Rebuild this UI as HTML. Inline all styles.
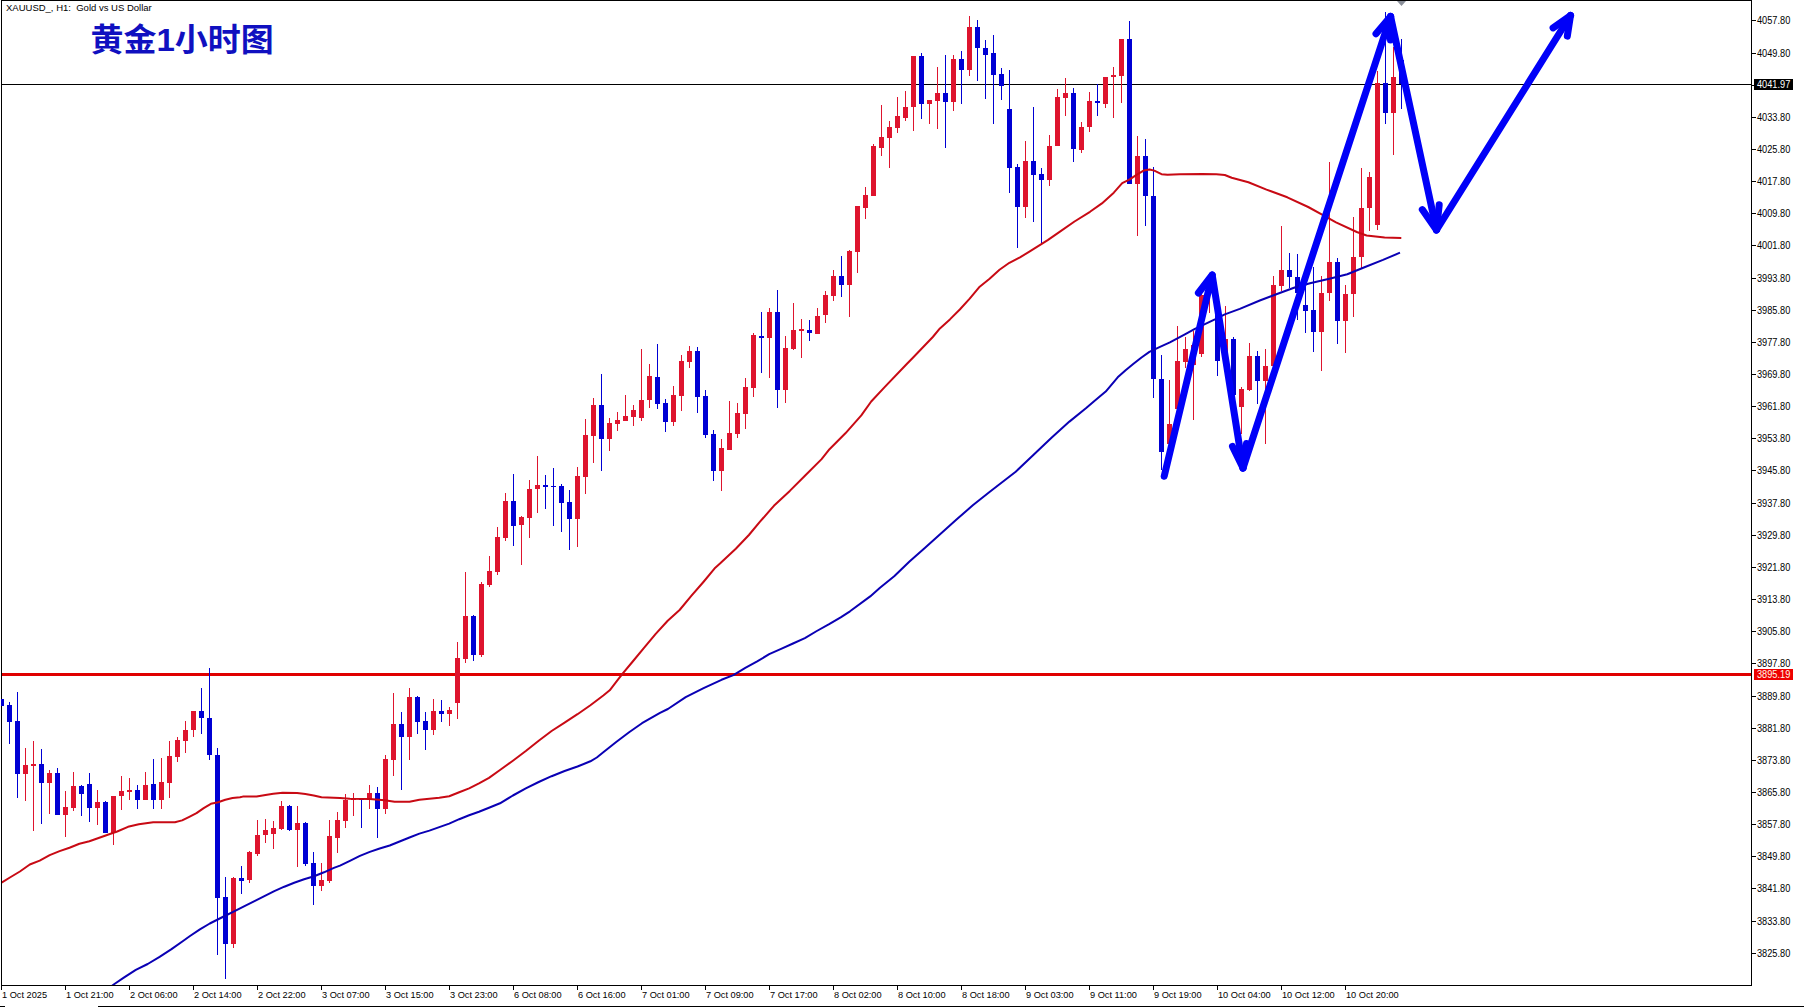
<!DOCTYPE html><html><head><meta charset="utf-8"><title>XAUUSD H1</title>
<style>html,body{margin:0;padding:0;background:#fff;}svg{display:block;}.ax{font-family:"Liberation Sans", Arial, sans-serif;font-size:9.5px;fill:#000;}</style></head><body>
<svg width="1804" height="1007" viewBox="0 0 1804 1007">
<rect x="0" y="0" width="1804" height="1007" fill="#fff"/>
<g shape-rendering="crispEdges">
<rect x="1" y="84" width="1750" height="1" fill="#000"/>
<rect x="1" y="673" width="1750" height="3" fill="#e00000"/>
<rect x="1" y="697" width="1" height="11" fill="#0000d4"/>
<rect x="-1" y="699" width="5" height="7" fill="#0000d4"/>
<rect x="9" y="702" width="1" height="42" fill="#0000d4"/>
<rect x="7" y="705" width="5" height="17" fill="#0000d4"/>
<rect x="17" y="692" width="1" height="106" fill="#0000d4"/>
<rect x="15" y="721" width="5" height="53" fill="#0000d4"/>
<rect x="25" y="748" width="1" height="53" fill="#de142e"/>
<rect x="23" y="765" width="5" height="9" fill="#de142e"/>
<rect x="33" y="741" width="1" height="90" fill="#de142e"/>
<rect x="31" y="764" width="5" height="2" fill="#de142e"/>
<rect x="41" y="749" width="1" height="75" fill="#0000d4"/>
<rect x="39" y="764" width="5" height="19" fill="#0000d4"/>
<rect x="49" y="770" width="1" height="44" fill="#de142e"/>
<rect x="47" y="773" width="5" height="10" fill="#de142e"/>
<rect x="57" y="768" width="1" height="47" fill="#0000d4"/>
<rect x="55" y="773" width="5" height="42" fill="#0000d4"/>
<rect x="65" y="791" width="1" height="46" fill="#de142e"/>
<rect x="63" y="807" width="5" height="8" fill="#de142e"/>
<rect x="73" y="772" width="1" height="39" fill="#de142e"/>
<rect x="71" y="786" width="5" height="22" fill="#de142e"/>
<rect x="81" y="785" width="1" height="31" fill="#0000d4"/>
<rect x="79" y="786" width="5" height="8" fill="#0000d4"/>
<rect x="89" y="773" width="1" height="49" fill="#0000d4"/>
<rect x="87" y="784" width="5" height="24" fill="#0000d4"/>
<rect x="97" y="790" width="1" height="35" fill="#de142e"/>
<rect x="95" y="802" width="5" height="6" fill="#de142e"/>
<rect x="105" y="801" width="1" height="32" fill="#0000d4"/>
<rect x="103" y="802" width="5" height="31" fill="#0000d4"/>
<rect x="113" y="796" width="1" height="49" fill="#de142e"/>
<rect x="111" y="796" width="5" height="37" fill="#de142e"/>
<rect x="121" y="776" width="1" height="34" fill="#de142e"/>
<rect x="119" y="791" width="5" height="5" fill="#de142e"/>
<rect x="129" y="778" width="1" height="22" fill="#de142e"/>
<rect x="127" y="790" width="5" height="2" fill="#de142e"/>
<rect x="137" y="785" width="1" height="24" fill="#0000d4"/>
<rect x="135" y="790" width="5" height="10" fill="#0000d4"/>
<rect x="145" y="772" width="1" height="28" fill="#de142e"/>
<rect x="143" y="785" width="5" height="15" fill="#de142e"/>
<rect x="153" y="759" width="1" height="50" fill="#0000d4"/>
<rect x="151" y="784" width="5" height="16" fill="#0000d4"/>
<rect x="161" y="758" width="1" height="51" fill="#de142e"/>
<rect x="159" y="782" width="5" height="18" fill="#de142e"/>
<rect x="169" y="741" width="1" height="57" fill="#de142e"/>
<rect x="167" y="756" width="5" height="27" fill="#de142e"/>
<rect x="177" y="737" width="1" height="25" fill="#de142e"/>
<rect x="175" y="740" width="5" height="17" fill="#de142e"/>
<rect x="185" y="721" width="1" height="32" fill="#de142e"/>
<rect x="183" y="730" width="5" height="11" fill="#de142e"/>
<rect x="193" y="711" width="1" height="26" fill="#de142e"/>
<rect x="191" y="711" width="5" height="19" fill="#de142e"/>
<rect x="201" y="688" width="1" height="46" fill="#0000d4"/>
<rect x="199" y="711" width="5" height="7" fill="#0000d4"/>
<rect x="209" y="668" width="1" height="92" fill="#0000d4"/>
<rect x="207" y="718" width="5" height="37" fill="#0000d4"/>
<rect x="217" y="748" width="1" height="207" fill="#0000d4"/>
<rect x="215" y="755" width="5" height="143" fill="#0000d4"/>
<rect x="225" y="877" width="1" height="102" fill="#0000d4"/>
<rect x="223" y="897" width="5" height="47" fill="#0000d4"/>
<rect x="233" y="877" width="1" height="71" fill="#de142e"/>
<rect x="231" y="878" width="5" height="66" fill="#de142e"/>
<rect x="241" y="866" width="1" height="28" fill="#0000d4"/>
<rect x="239" y="878" width="5" height="3" fill="#0000d4"/>
<rect x="249" y="851" width="1" height="32" fill="#de142e"/>
<rect x="247" y="852" width="5" height="28" fill="#de142e"/>
<rect x="257" y="820" width="1" height="36" fill="#de142e"/>
<rect x="255" y="835" width="5" height="19" fill="#de142e"/>
<rect x="265" y="819" width="1" height="24" fill="#de142e"/>
<rect x="263" y="830" width="5" height="5" fill="#de142e"/>
<rect x="273" y="821" width="1" height="28" fill="#de142e"/>
<rect x="271" y="828" width="5" height="6" fill="#de142e"/>
<rect x="281" y="801" width="1" height="29" fill="#de142e"/>
<rect x="279" y="806" width="5" height="23" fill="#de142e"/>
<rect x="289" y="805" width="1" height="26" fill="#0000d4"/>
<rect x="287" y="806" width="5" height="24" fill="#0000d4"/>
<rect x="297" y="806" width="1" height="61" fill="#de142e"/>
<rect x="295" y="823" width="5" height="7" fill="#de142e"/>
<rect x="305" y="822" width="1" height="44" fill="#0000d4"/>
<rect x="303" y="823" width="5" height="41" fill="#0000d4"/>
<rect x="313" y="852" width="1" height="53" fill="#0000d4"/>
<rect x="311" y="863" width="5" height="23" fill="#0000d4"/>
<rect x="321" y="863" width="1" height="28" fill="#de142e"/>
<rect x="319" y="880" width="5" height="6" fill="#de142e"/>
<rect x="329" y="820" width="1" height="63" fill="#de142e"/>
<rect x="327" y="836" width="5" height="45" fill="#de142e"/>
<rect x="337" y="812" width="1" height="41" fill="#de142e"/>
<rect x="335" y="820" width="5" height="18" fill="#de142e"/>
<rect x="345" y="794" width="1" height="34" fill="#de142e"/>
<rect x="343" y="800" width="5" height="21" fill="#de142e"/>
<rect x="353" y="793" width="1" height="23" fill="#de142e"/>
<rect x="351" y="798" width="5" height="2" fill="#de142e"/>
<rect x="361" y="798" width="1" height="30" fill="#0000d4"/>
<rect x="359" y="798" width="5" height="2" fill="#0000d4"/>
<rect x="369" y="785" width="1" height="24" fill="#de142e"/>
<rect x="367" y="793" width="5" height="7" fill="#de142e"/>
<rect x="377" y="787" width="1" height="51" fill="#0000d4"/>
<rect x="375" y="793" width="5" height="16" fill="#0000d4"/>
<rect x="385" y="755" width="1" height="59" fill="#de142e"/>
<rect x="383" y="759" width="5" height="50" fill="#de142e"/>
<rect x="393" y="693" width="1" height="83" fill="#de142e"/>
<rect x="391" y="724" width="5" height="36" fill="#de142e"/>
<rect x="401" y="712" width="1" height="78" fill="#0000d4"/>
<rect x="399" y="724" width="5" height="13" fill="#0000d4"/>
<rect x="409" y="688" width="1" height="72" fill="#de142e"/>
<rect x="407" y="697" width="5" height="40" fill="#de142e"/>
<rect x="417" y="696" width="1" height="38" fill="#0000d4"/>
<rect x="415" y="697" width="5" height="25" fill="#0000d4"/>
<rect x="425" y="712" width="1" height="38" fill="#0000d4"/>
<rect x="423" y="721" width="5" height="9" fill="#0000d4"/>
<rect x="433" y="699" width="1" height="36" fill="#de142e"/>
<rect x="431" y="711" width="5" height="19" fill="#de142e"/>
<rect x="441" y="700" width="1" height="22" fill="#0000d4"/>
<rect x="439" y="711" width="5" height="3" fill="#0000d4"/>
<rect x="449" y="707" width="1" height="19" fill="#de142e"/>
<rect x="447" y="710" width="5" height="4" fill="#de142e"/>
<rect x="457" y="642" width="1" height="77" fill="#de142e"/>
<rect x="455" y="658" width="5" height="45" fill="#de142e"/>
<rect x="465" y="572" width="1" height="91" fill="#de142e"/>
<rect x="463" y="616" width="5" height="43" fill="#de142e"/>
<rect x="473" y="615" width="1" height="46" fill="#0000d4"/>
<rect x="471" y="616" width="5" height="39" fill="#0000d4"/>
<rect x="481" y="582" width="1" height="75" fill="#de142e"/>
<rect x="479" y="584" width="5" height="71" fill="#de142e"/>
<rect x="489" y="556" width="1" height="31" fill="#de142e"/>
<rect x="487" y="571" width="5" height="14" fill="#de142e"/>
<rect x="497" y="527" width="1" height="48" fill="#de142e"/>
<rect x="495" y="537" width="5" height="35" fill="#de142e"/>
<rect x="505" y="493" width="1" height="48" fill="#de142e"/>
<rect x="503" y="501" width="5" height="37" fill="#de142e"/>
<rect x="513" y="474" width="1" height="72" fill="#0000d4"/>
<rect x="511" y="501" width="5" height="25" fill="#0000d4"/>
<rect x="521" y="516" width="1" height="49" fill="#de142e"/>
<rect x="519" y="517" width="5" height="8" fill="#de142e"/>
<rect x="529" y="480" width="1" height="58" fill="#de142e"/>
<rect x="527" y="489" width="5" height="29" fill="#de142e"/>
<rect x="537" y="456" width="1" height="57" fill="#de142e"/>
<rect x="535" y="485" width="5" height="4" fill="#de142e"/>
<rect x="545" y="475" width="1" height="34" fill="#0000d4"/>
<rect x="543" y="485" width="5" height="2" fill="#0000d4"/>
<rect x="553" y="468" width="1" height="58" fill="#0000d4"/>
<rect x="551" y="486" width="5" height="1" fill="#0000d4"/>
<rect x="561" y="484" width="1" height="48" fill="#0000d4"/>
<rect x="559" y="486" width="5" height="17" fill="#0000d4"/>
<rect x="569" y="490" width="1" height="60" fill="#0000d4"/>
<rect x="567" y="502" width="5" height="17" fill="#0000d4"/>
<rect x="577" y="467" width="1" height="80" fill="#de142e"/>
<rect x="575" y="476" width="5" height="43" fill="#de142e"/>
<rect x="585" y="419" width="1" height="75" fill="#de142e"/>
<rect x="583" y="435" width="5" height="42" fill="#de142e"/>
<rect x="593" y="398" width="1" height="65" fill="#de142e"/>
<rect x="591" y="405" width="5" height="31" fill="#de142e"/>
<rect x="601" y="374" width="1" height="97" fill="#0000d4"/>
<rect x="599" y="405" width="5" height="34" fill="#0000d4"/>
<rect x="609" y="418" width="1" height="33" fill="#de142e"/>
<rect x="607" y="423" width="5" height="16" fill="#de142e"/>
<rect x="617" y="412" width="1" height="19" fill="#de142e"/>
<rect x="615" y="420" width="5" height="4" fill="#de142e"/>
<rect x="625" y="395" width="1" height="26" fill="#de142e"/>
<rect x="623" y="416" width="5" height="5" fill="#de142e"/>
<rect x="633" y="405" width="1" height="21" fill="#de142e"/>
<rect x="631" y="410" width="5" height="7" fill="#de142e"/>
<rect x="641" y="349" width="1" height="72" fill="#de142e"/>
<rect x="639" y="400" width="5" height="18" fill="#de142e"/>
<rect x="649" y="364" width="1" height="44" fill="#de142e"/>
<rect x="647" y="376" width="5" height="24" fill="#de142e"/>
<rect x="657" y="344" width="1" height="65" fill="#0000d4"/>
<rect x="655" y="377" width="5" height="27" fill="#0000d4"/>
<rect x="665" y="399" width="1" height="33" fill="#0000d4"/>
<rect x="663" y="403" width="5" height="19" fill="#0000d4"/>
<rect x="673" y="386" width="1" height="40" fill="#de142e"/>
<rect x="671" y="395" width="5" height="27" fill="#de142e"/>
<rect x="681" y="355" width="1" height="56" fill="#de142e"/>
<rect x="679" y="361" width="5" height="35" fill="#de142e"/>
<rect x="689" y="346" width="1" height="22" fill="#de142e"/>
<rect x="687" y="351" width="5" height="11" fill="#de142e"/>
<rect x="697" y="347" width="1" height="66" fill="#0000d4"/>
<rect x="695" y="351" width="5" height="46" fill="#0000d4"/>
<rect x="705" y="390" width="1" height="48" fill="#0000d4"/>
<rect x="703" y="396" width="5" height="39" fill="#0000d4"/>
<rect x="713" y="430" width="1" height="51" fill="#0000d4"/>
<rect x="711" y="434" width="5" height="37" fill="#0000d4"/>
<rect x="721" y="439" width="1" height="52" fill="#de142e"/>
<rect x="719" y="448" width="5" height="23" fill="#de142e"/>
<rect x="729" y="401" width="1" height="49" fill="#de142e"/>
<rect x="727" y="433" width="5" height="17" fill="#de142e"/>
<rect x="737" y="403" width="1" height="35" fill="#de142e"/>
<rect x="735" y="413" width="5" height="21" fill="#de142e"/>
<rect x="745" y="378" width="1" height="51" fill="#de142e"/>
<rect x="743" y="387" width="5" height="27" fill="#de142e"/>
<rect x="753" y="333" width="1" height="64" fill="#de142e"/>
<rect x="751" y="335" width="5" height="53" fill="#de142e"/>
<rect x="761" y="312" width="1" height="61" fill="#0000d4"/>
<rect x="759" y="336" width="5" height="2" fill="#0000d4"/>
<rect x="769" y="308" width="1" height="70" fill="#de142e"/>
<rect x="767" y="312" width="5" height="26" fill="#de142e"/>
<rect x="777" y="290" width="1" height="118" fill="#0000d4"/>
<rect x="775" y="312" width="5" height="78" fill="#0000d4"/>
<rect x="785" y="336" width="1" height="67" fill="#de142e"/>
<rect x="783" y="348" width="5" height="42" fill="#de142e"/>
<rect x="793" y="303" width="1" height="47" fill="#de142e"/>
<rect x="791" y="330" width="5" height="19" fill="#de142e"/>
<rect x="801" y="319" width="1" height="39" fill="#de142e"/>
<rect x="799" y="329" width="5" height="2" fill="#de142e"/>
<rect x="809" y="320" width="1" height="21" fill="#0000d4"/>
<rect x="807" y="330" width="5" height="3" fill="#0000d4"/>
<rect x="817" y="308" width="1" height="26" fill="#de142e"/>
<rect x="815" y="316" width="5" height="18" fill="#de142e"/>
<rect x="825" y="291" width="1" height="32" fill="#de142e"/>
<rect x="823" y="295" width="5" height="20" fill="#de142e"/>
<rect x="833" y="270" width="1" height="31" fill="#de142e"/>
<rect x="831" y="276" width="5" height="20" fill="#de142e"/>
<rect x="841" y="256" width="1" height="41" fill="#0000d4"/>
<rect x="839" y="276" width="5" height="9" fill="#0000d4"/>
<rect x="849" y="250" width="1" height="67" fill="#de142e"/>
<rect x="847" y="251" width="5" height="34" fill="#de142e"/>
<rect x="857" y="206" width="1" height="67" fill="#de142e"/>
<rect x="855" y="206" width="5" height="46" fill="#de142e"/>
<rect x="865" y="187" width="1" height="32" fill="#de142e"/>
<rect x="863" y="195" width="5" height="13" fill="#de142e"/>
<rect x="873" y="144" width="1" height="52" fill="#de142e"/>
<rect x="871" y="146" width="5" height="50" fill="#de142e"/>
<rect x="881" y="105" width="1" height="51" fill="#de142e"/>
<rect x="879" y="137" width="5" height="11" fill="#de142e"/>
<rect x="889" y="121" width="1" height="47" fill="#de142e"/>
<rect x="887" y="127" width="5" height="11" fill="#de142e"/>
<rect x="897" y="97" width="1" height="36" fill="#de142e"/>
<rect x="895" y="116" width="5" height="12" fill="#de142e"/>
<rect x="905" y="91" width="1" height="30" fill="#de142e"/>
<rect x="903" y="107" width="5" height="11" fill="#de142e"/>
<rect x="913" y="56" width="1" height="75" fill="#de142e"/>
<rect x="911" y="56" width="5" height="51" fill="#de142e"/>
<rect x="921" y="53" width="1" height="66" fill="#0000d4"/>
<rect x="919" y="56" width="5" height="48" fill="#0000d4"/>
<rect x="929" y="100" width="1" height="24" fill="#de142e"/>
<rect x="927" y="100" width="5" height="4" fill="#de142e"/>
<rect x="937" y="67" width="1" height="62" fill="#de142e"/>
<rect x="935" y="93" width="5" height="8" fill="#de142e"/>
<rect x="945" y="55" width="1" height="93" fill="#0000d4"/>
<rect x="943" y="93" width="5" height="9" fill="#0000d4"/>
<rect x="953" y="55" width="1" height="56" fill="#de142e"/>
<rect x="951" y="59" width="5" height="43" fill="#de142e"/>
<rect x="961" y="51" width="1" height="53" fill="#0000d4"/>
<rect x="959" y="59" width="5" height="11" fill="#0000d4"/>
<rect x="969" y="16" width="1" height="60" fill="#de142e"/>
<rect x="967" y="27" width="5" height="43" fill="#de142e"/>
<rect x="977" y="20" width="1" height="61" fill="#0000d4"/>
<rect x="975" y="27" width="5" height="21" fill="#0000d4"/>
<rect x="985" y="40" width="1" height="59" fill="#0000d4"/>
<rect x="983" y="48" width="5" height="7" fill="#0000d4"/>
<rect x="993" y="35" width="1" height="89" fill="#0000d4"/>
<rect x="991" y="53" width="5" height="22" fill="#0000d4"/>
<rect x="1001" y="68" width="1" height="32" fill="#0000d4"/>
<rect x="999" y="74" width="5" height="12" fill="#0000d4"/>
<rect x="1009" y="70" width="1" height="123" fill="#0000d4"/>
<rect x="1007" y="109" width="5" height="59" fill="#0000d4"/>
<rect x="1017" y="164" width="1" height="84" fill="#0000d4"/>
<rect x="1015" y="167" width="5" height="40" fill="#0000d4"/>
<rect x="1025" y="141" width="1" height="77" fill="#de142e"/>
<rect x="1023" y="161" width="5" height="46" fill="#de142e"/>
<rect x="1033" y="107" width="1" height="115" fill="#0000d4"/>
<rect x="1031" y="161" width="5" height="14" fill="#0000d4"/>
<rect x="1041" y="168" width="1" height="75" fill="#0000d4"/>
<rect x="1039" y="174" width="5" height="6" fill="#0000d4"/>
<rect x="1049" y="135" width="1" height="51" fill="#de142e"/>
<rect x="1047" y="146" width="5" height="34" fill="#de142e"/>
<rect x="1057" y="89" width="1" height="57" fill="#de142e"/>
<rect x="1055" y="97" width="5" height="49" fill="#de142e"/>
<rect x="1065" y="78" width="1" height="38" fill="#de142e"/>
<rect x="1063" y="93" width="5" height="5" fill="#de142e"/>
<rect x="1073" y="88" width="1" height="74" fill="#0000d4"/>
<rect x="1071" y="93" width="5" height="56" fill="#0000d4"/>
<rect x="1081" y="122" width="1" height="31" fill="#de142e"/>
<rect x="1079" y="127" width="5" height="23" fill="#de142e"/>
<rect x="1089" y="92" width="1" height="40" fill="#de142e"/>
<rect x="1087" y="101" width="5" height="26" fill="#de142e"/>
<rect x="1097" y="84" width="1" height="32" fill="#0000d4"/>
<rect x="1095" y="101" width="5" height="2" fill="#0000d4"/>
<rect x="1105" y="77" width="1" height="31" fill="#de142e"/>
<rect x="1103" y="77" width="5" height="27" fill="#de142e"/>
<rect x="1113" y="67" width="1" height="51" fill="#de142e"/>
<rect x="1111" y="75" width="5" height="2" fill="#de142e"/>
<rect x="1121" y="39" width="1" height="64" fill="#de142e"/>
<rect x="1119" y="39" width="5" height="37" fill="#de142e"/>
<rect x="1129" y="21" width="1" height="163" fill="#0000d4"/>
<rect x="1127" y="39" width="5" height="145" fill="#0000d4"/>
<rect x="1137" y="136" width="1" height="100" fill="#de142e"/>
<rect x="1135" y="156" width="5" height="28" fill="#de142e"/>
<rect x="1145" y="139" width="1" height="87" fill="#0000d4"/>
<rect x="1143" y="156" width="5" height="40" fill="#0000d4"/>
<rect x="1153" y="167" width="1" height="231" fill="#0000d4"/>
<rect x="1151" y="196" width="5" height="183" fill="#0000d4"/>
<rect x="1161" y="355" width="1" height="115" fill="#0000d4"/>
<rect x="1159" y="379" width="5" height="73" fill="#0000d4"/>
<rect x="1169" y="380" width="1" height="75" fill="#de142e"/>
<rect x="1167" y="424" width="5" height="20" fill="#de142e"/>
<rect x="1177" y="326" width="1" height="89" fill="#de142e"/>
<rect x="1175" y="361" width="5" height="48" fill="#de142e"/>
<rect x="1185" y="337" width="1" height="31" fill="#de142e"/>
<rect x="1183" y="349" width="5" height="13" fill="#de142e"/>
<rect x="1193" y="331" width="1" height="89" fill="#de142e"/>
<rect x="1191" y="345" width="5" height="20" fill="#de142e"/>
<rect x="1201" y="294" width="1" height="63" fill="#de142e"/>
<rect x="1199" y="295" width="5" height="59" fill="#de142e"/>
<rect x="1209" y="286" width="1" height="27" fill="#de142e"/>
<rect x="1207" y="288" width="5" height="3" fill="#de142e"/>
<rect x="1217" y="296" width="1" height="80" fill="#0000d4"/>
<rect x="1215" y="305" width="5" height="56" fill="#0000d4"/>
<rect x="1225" y="306" width="1" height="59" fill="#de142e"/>
<rect x="1223" y="339" width="5" height="21" fill="#de142e"/>
<rect x="1233" y="337" width="1" height="63" fill="#0000d4"/>
<rect x="1231" y="339" width="5" height="56" fill="#0000d4"/>
<rect x="1241" y="387" width="1" height="47" fill="#de142e"/>
<rect x="1239" y="389" width="5" height="18" fill="#de142e"/>
<rect x="1249" y="343" width="1" height="48" fill="#de142e"/>
<rect x="1247" y="356" width="5" height="34" fill="#de142e"/>
<rect x="1257" y="351" width="1" height="53" fill="#0000d4"/>
<rect x="1255" y="356" width="5" height="25" fill="#0000d4"/>
<rect x="1265" y="349" width="1" height="95" fill="#de142e"/>
<rect x="1263" y="366" width="5" height="15" fill="#de142e"/>
<rect x="1273" y="276" width="1" height="104" fill="#de142e"/>
<rect x="1271" y="285" width="5" height="81" fill="#de142e"/>
<rect x="1281" y="226" width="1" height="65" fill="#de142e"/>
<rect x="1279" y="270" width="5" height="16" fill="#de142e"/>
<rect x="1289" y="253" width="1" height="35" fill="#0000d4"/>
<rect x="1287" y="270" width="5" height="7" fill="#0000d4"/>
<rect x="1297" y="254" width="1" height="66" fill="#0000d4"/>
<rect x="1295" y="277" width="5" height="16" fill="#0000d4"/>
<rect x="1305" y="286" width="1" height="47" fill="#0000d4"/>
<rect x="1303" y="305" width="5" height="6" fill="#0000d4"/>
<rect x="1313" y="267" width="1" height="85" fill="#0000d4"/>
<rect x="1311" y="310" width="5" height="22" fill="#0000d4"/>
<rect x="1321" y="276" width="1" height="95" fill="#de142e"/>
<rect x="1319" y="293" width="5" height="39" fill="#de142e"/>
<rect x="1329" y="162" width="1" height="139" fill="#de142e"/>
<rect x="1327" y="262" width="5" height="31" fill="#de142e"/>
<rect x="1337" y="258" width="1" height="86" fill="#0000d4"/>
<rect x="1335" y="262" width="5" height="59" fill="#0000d4"/>
<rect x="1345" y="285" width="1" height="68" fill="#de142e"/>
<rect x="1343" y="294" width="5" height="27" fill="#de142e"/>
<rect x="1353" y="217" width="1" height="100" fill="#de142e"/>
<rect x="1351" y="257" width="5" height="37" fill="#de142e"/>
<rect x="1361" y="168" width="1" height="101" fill="#de142e"/>
<rect x="1359" y="208" width="5" height="49" fill="#de142e"/>
<rect x="1369" y="172" width="1" height="59" fill="#de142e"/>
<rect x="1367" y="177" width="5" height="31" fill="#de142e"/>
<rect x="1377" y="71" width="1" height="159" fill="#de142e"/>
<rect x="1375" y="83" width="5" height="142" fill="#de142e"/>
<rect x="1385" y="12" width="1" height="112" fill="#0000d4"/>
<rect x="1383" y="83" width="5" height="30" fill="#0000d4"/>
<rect x="1393" y="47" width="1" height="108" fill="#de142e"/>
<rect x="1391" y="77" width="5" height="36" fill="#de142e"/>
<rect x="1401" y="39" width="1" height="70" fill="#0000d4"/>
<rect x="1399" y="60" width="5" height="24" fill="#0000d4"/>
</g>
<polyline points="0.0,883.0 2.0,882.4 9.9,877.5 19.9,871.5 29.8,864.5 39.7,860.6 49.7,855.1 59.6,851.1 69.5,847.7 79.4,843.7 89.4,841.2 99.3,837.7 109.2,834.3 117.2,831.5 128.0,826.8 138.8,824.3 153.2,822.2 174.9,822.2 182.1,820.4 189.3,816.8 196.5,813.1 203.7,808.1 210.9,803.8 218.1,802.3 225.3,799.8 232.5,798.0 240.0,797.3 242.8,796.6 256.6,796.5 265.5,795.0 273.3,793.8 282.7,792.8 297.1,793.0 305.4,794.0 313.7,795.5 321.5,797.2 340.0,798.0 349.9,798.8 369.8,799.1 384.7,800.3 394.6,801.8 409.5,801.8 419.4,799.8 439.3,797.8 449.2,796.3 459.2,792.3 469.1,788.4 479.0,783.4 489.0,777.9 500.0,770.0 512.9,760.7 525.8,751.0 538.7,740.7 551.6,731.0 564.6,722.6 577.5,714.2 590.4,705.2 603.3,695.5 609.7,690.3 616.2,681.9 622.4,673.8 631.9,662.5 643.8,648.2 655.7,633.9 667.7,620.8 679.6,610.0 691.5,595.7 703.4,582.0 715.3,567.7 720.0,563.6 735.8,548.7 748.9,535.0 760.0,521.7 773.9,505.8 789.8,490.9 805.7,475.0 821.6,459.1 829.5,449.2 845.4,433.3 861.3,415.4 871.2,401.5 885.1,386.6 907.0,363.8 912.9,357.8 932.8,337.0 939.9,328.4 949.9,319.4 959.8,309.5 969.7,298.6 979.7,286.7 989.6,278.7 999.5,269.8 1009.4,262.8 1020.0,257.4 1029.8,251.3 1047.7,240.1 1059.6,231.9 1074.5,221.5 1090.0,211.8 1101.9,203.4 1113.8,192.7 1122.2,183.2 1129.3,179.6 1137.7,174.2 1143.6,170.6 1149.6,169.5 1154.3,170.6 1161.5,174.2 1167.5,174.8 1180.0,174.2 1202.5,173.9 1216.4,174.3 1224.8,175.0 1231.7,177.8 1248.4,182.3 1266.5,189.6 1287.3,197.3 1308.2,207.0 1322.1,214.6 1336.0,222.3 1356.8,232.0 1366.6,235.5 1384.6,237.6 1401.3,237.9" fill="none" stroke="#c80a14" stroke-width="2" stroke-linejoin="round"/>
<polyline points="110.5,987.0 113.7,984.5 123.8,977.7 135.8,969.9 147.7,964.0 159.6,956.8 171.5,949.1 183.4,940.7 190.0,936.0 199.9,929.4 209.8,923.5 217.7,919.5 224.7,916.0 234.6,911.1 244.5,906.1 254.5,901.1 264.4,896.2 274.3,891.2 284.3,886.7 294.2,882.8 304.1,879.3 314.1,876.3 324.0,872.3 333.9,867.9 340.0,865.6 349.9,860.9 359.9,855.9 369.8,851.9 379.7,848.5 389.7,845.5 399.6,841.5 409.5,837.5 419.4,833.6 429.4,830.6 439.3,827.1 449.2,823.6 459.2,819.2 469.1,815.2 479.0,811.7 489.0,807.7 500.0,803.3 512.9,795.5 525.8,788.4 538.7,782.0 551.6,776.2 564.6,771.0 577.5,766.5 590.4,761.3 596.8,757.5 603.3,752.3 616.2,742.0 629.1,732.3 642.0,723.2 660.0,712.9 667.9,709.0 685.7,697.1 703.6,688.2 721.5,679.8 733.4,675.1 745.3,667.9 757.2,661.4 769.2,654.2 781.1,648.9 793.0,643.5 804.9,638.1 816.8,631.0 828.7,624.4 840.7,617.3 850.0,611.3 870.2,596.4 880.0,587.8 894.2,576.3 909.5,561.5 924.8,547.9 940.1,534.2 956.5,519.5 972.8,505.3 989.2,492.2 997.9,485.5 1015.7,471.7 1033.6,454.7 1051.5,437.7 1069.4,421.6 1085.9,408.3 1093.8,401.6 1105.7,391.6 1117.7,377.3 1125.6,370.2 1133.5,363.8 1141.5,357.5 1149.4,351.9 1160.0,346.8 1169.9,342.4 1184.9,334.4 1194.9,328.9 1214.9,319.4 1224.8,314.4 1239.8,308.9 1259.8,300.5 1279.7,293.0 1294.7,287.5 1310.0,283.3 1329.4,278.7 1347.3,274.2 1365.1,267.0 1383.0,259.9 1400.0,252.7" fill="none" stroke="#0a00b4" stroke-width="2" stroke-linejoin="round"/>
<g shape-rendering="crispEdges">
<rect x="0" y="0" width="1" height="1007" fill="#fff"/>
<rect x="1752" y="0" width="52" height="1007" fill="#fff"/>
<rect x="0" y="986" width="1804" height="21" fill="#fff"/>
<rect x="1" y="0" width="1751" height="1" fill="#000"/>
<rect x="1" y="0" width="1" height="986" fill="#000"/>
<rect x="1751" y="0" width="1" height="986" fill="#000"/>
<rect x="1" y="985" width="1751" height="1" fill="#000"/>
<rect x="1" y="699" width="3" height="7" fill="#0000d4"/>
<rect x="0" y="1006" width="5" height="1" fill="#000"/>
<rect x="98" y="1006" width="1706" height="1" fill="#000"/>
<rect x="1752" y="20" width="4" height="1" fill="#000"/>
<rect x="1752" y="53" width="4" height="1" fill="#000"/>
<rect x="1752" y="85" width="4" height="1" fill="#000"/>
<rect x="1752" y="117" width="4" height="1" fill="#000"/>
<rect x="1752" y="149" width="4" height="1" fill="#000"/>
<rect x="1752" y="181" width="4" height="1" fill="#000"/>
<rect x="1752" y="213" width="4" height="1" fill="#000"/>
<rect x="1752" y="245" width="4" height="1" fill="#000"/>
<rect x="1752" y="278" width="4" height="1" fill="#000"/>
<rect x="1752" y="310" width="4" height="1" fill="#000"/>
<rect x="1752" y="342" width="4" height="1" fill="#000"/>
<rect x="1752" y="374" width="4" height="1" fill="#000"/>
<rect x="1752" y="406" width="4" height="1" fill="#000"/>
<rect x="1752" y="438" width="4" height="1" fill="#000"/>
<rect x="1752" y="470" width="4" height="1" fill="#000"/>
<rect x="1752" y="503" width="4" height="1" fill="#000"/>
<rect x="1752" y="535" width="4" height="1" fill="#000"/>
<rect x="1752" y="567" width="4" height="1" fill="#000"/>
<rect x="1752" y="599" width="4" height="1" fill="#000"/>
<rect x="1752" y="631" width="4" height="1" fill="#000"/>
<rect x="1752" y="663" width="4" height="1" fill="#000"/>
<rect x="1752" y="696" width="4" height="1" fill="#000"/>
<rect x="1752" y="728" width="4" height="1" fill="#000"/>
<rect x="1752" y="760" width="4" height="1" fill="#000"/>
<rect x="1752" y="792" width="4" height="1" fill="#000"/>
<rect x="1752" y="824" width="4" height="1" fill="#000"/>
<rect x="1752" y="856" width="4" height="1" fill="#000"/>
<rect x="1752" y="888" width="4" height="1" fill="#000"/>
<rect x="1752" y="921" width="4" height="1" fill="#000"/>
<rect x="1752" y="953" width="4" height="1" fill="#000"/>
<rect x="1" y="986" width="1" height="4" fill="#000"/>
<rect x="65" y="986" width="1" height="4" fill="#000"/>
<rect x="129" y="986" width="1" height="4" fill="#000"/>
<rect x="193" y="986" width="1" height="4" fill="#000"/>
<rect x="257" y="986" width="1" height="4" fill="#000"/>
<rect x="321" y="986" width="1" height="4" fill="#000"/>
<rect x="385" y="986" width="1" height="4" fill="#000"/>
<rect x="449" y="986" width="1" height="4" fill="#000"/>
<rect x="513" y="986" width="1" height="4" fill="#000"/>
<rect x="577" y="986" width="1" height="4" fill="#000"/>
<rect x="641" y="986" width="1" height="4" fill="#000"/>
<rect x="705" y="986" width="1" height="4" fill="#000"/>
<rect x="769" y="986" width="1" height="4" fill="#000"/>
<rect x="833" y="986" width="1" height="4" fill="#000"/>
<rect x="897" y="986" width="1" height="4" fill="#000"/>
<rect x="961" y="986" width="1" height="4" fill="#000"/>
<rect x="1025" y="986" width="1" height="4" fill="#000"/>
<rect x="1089" y="986" width="1" height="4" fill="#000"/>
<rect x="1153" y="986" width="1" height="4" fill="#000"/>
<rect x="1217" y="986" width="1" height="4" fill="#000"/>
<rect x="1281" y="986" width="1" height="4" fill="#000"/>
<rect x="1345" y="986" width="1" height="4" fill="#000"/>
<rect x="1754" y="79" width="39" height="11" fill="#000"/>
<rect x="1754" y="669" width="39" height="11" fill="#ee0000"/>
</g>
<text class="ax" transform="translate(1757,24) scale(0.97,1.1)">4057.80</text>
<text class="ax" transform="translate(1757,57) scale(0.97,1.1)">4049.80</text>
<text class="ax" transform="translate(1757,121) scale(0.97,1.1)">4033.80</text>
<text class="ax" transform="translate(1757,153) scale(0.97,1.1)">4025.80</text>
<text class="ax" transform="translate(1757,185) scale(0.97,1.1)">4017.80</text>
<text class="ax" transform="translate(1757,217) scale(0.97,1.1)">4009.80</text>
<text class="ax" transform="translate(1757,249) scale(0.97,1.1)">4001.80</text>
<text class="ax" transform="translate(1757,282) scale(0.97,1.1)">3993.80</text>
<text class="ax" transform="translate(1757,314) scale(0.97,1.1)">3985.80</text>
<text class="ax" transform="translate(1757,346) scale(0.97,1.1)">3977.80</text>
<text class="ax" transform="translate(1757,378) scale(0.97,1.1)">3969.80</text>
<text class="ax" transform="translate(1757,410) scale(0.97,1.1)">3961.80</text>
<text class="ax" transform="translate(1757,442) scale(0.97,1.1)">3953.80</text>
<text class="ax" transform="translate(1757,474) scale(0.97,1.1)">3945.80</text>
<text class="ax" transform="translate(1757,507) scale(0.97,1.1)">3937.80</text>
<text class="ax" transform="translate(1757,539) scale(0.97,1.1)">3929.80</text>
<text class="ax" transform="translate(1757,571) scale(0.97,1.1)">3921.80</text>
<text class="ax" transform="translate(1757,603) scale(0.97,1.1)">3913.80</text>
<text class="ax" transform="translate(1757,635) scale(0.97,1.1)">3905.80</text>
<text class="ax" transform="translate(1757,667) scale(0.97,1.1)">3897.80</text>
<text class="ax" transform="translate(1757,700) scale(0.97,1.1)">3889.80</text>
<text class="ax" transform="translate(1757,732) scale(0.97,1.1)">3881.80</text>
<text class="ax" transform="translate(1757,764) scale(0.97,1.1)">3873.80</text>
<text class="ax" transform="translate(1757,796) scale(0.97,1.1)">3865.80</text>
<text class="ax" transform="translate(1757,828) scale(0.97,1.1)">3857.80</text>
<text class="ax" transform="translate(1757,860) scale(0.97,1.1)">3849.80</text>
<text class="ax" transform="translate(1757,892) scale(0.97,1.1)">3841.80</text>
<text class="ax" transform="translate(1757,925) scale(0.97,1.1)">3833.80</text>
<text class="ax" transform="translate(1757,957) scale(0.97,1.1)">3825.80</text>
<text class="ax" transform="translate(1757,88) scale(0.97,1.1)" style="fill:#fff">4041.97</text>
<text class="ax" transform="translate(1757,678) scale(0.97,1.1)" style="fill:#fff8e8">3895.19</text>
<text class="ax" transform="translate(2,998) scale(0.97,1.05)">1 Oct 2025</text>
<text class="ax" transform="translate(66,998) scale(0.97,1.05)">1 Oct 21:00</text>
<text class="ax" transform="translate(130,998) scale(0.97,1.05)">2 Oct 06:00</text>
<text class="ax" transform="translate(194,998) scale(0.97,1.05)">2 Oct 14:00</text>
<text class="ax" transform="translate(258,998) scale(0.97,1.05)">2 Oct 22:00</text>
<text class="ax" transform="translate(322,998) scale(0.97,1.05)">3 Oct 07:00</text>
<text class="ax" transform="translate(386,998) scale(0.97,1.05)">3 Oct 15:00</text>
<text class="ax" transform="translate(450,998) scale(0.97,1.05)">3 Oct 23:00</text>
<text class="ax" transform="translate(514,998) scale(0.97,1.05)">6 Oct 08:00</text>
<text class="ax" transform="translate(578,998) scale(0.97,1.05)">6 Oct 16:00</text>
<text class="ax" transform="translate(642,998) scale(0.97,1.05)">7 Oct 01:00</text>
<text class="ax" transform="translate(706,998) scale(0.97,1.05)">7 Oct 09:00</text>
<text class="ax" transform="translate(770,998) scale(0.97,1.05)">7 Oct 17:00</text>
<text class="ax" transform="translate(834,998) scale(0.97,1.05)">8 Oct 02:00</text>
<text class="ax" transform="translate(898,998) scale(0.97,1.05)">8 Oct 10:00</text>
<text class="ax" transform="translate(962,998) scale(0.97,1.05)">8 Oct 18:00</text>
<text class="ax" transform="translate(1026,998) scale(0.97,1.05)">9 Oct 03:00</text>
<text class="ax" transform="translate(1090,998) scale(0.97,1.05)">9 Oct 11:00</text>
<text class="ax" transform="translate(1154,998) scale(0.97,1.05)">9 Oct 19:00</text>
<text class="ax" transform="translate(1218,998) scale(0.97,1.05)">10 Oct 04:00</text>
<text class="ax" transform="translate(1282,998) scale(0.97,1.05)">10 Oct 12:00</text>
<text class="ax" transform="translate(1346,998) scale(0.97,1.05)">10 Oct 20:00</text>
<text class="ax" transform="translate(6,11) scale(1,1.0)">XAUUSD_, H1:&#160; Gold vs US Dollar</text>
<text transform="translate(90.5,50.5) scale(1,0.955)" style="font-family:'Liberation Sans','Noto Sans CJK SC',sans-serif;font-weight:bold;font-size:33px;fill:#1010c0">黄金1小时图</text>
<polygon points="1397,1 1406,1 1401.5,6" fill="#8a8f99"/>
<g fill="none" stroke="#0000f8" stroke-width="7" stroke-linecap="round" stroke-linejoin="round">
<polyline points="1164.2,476.3 1212.2,275.0 1243.0,468.1 1390.6,16.4 1436.5,230.0 1570.5,15.5"/>
<line x1="1212.2" y1="275.0" x2="1198.4" y2="293.0"/>
<line x1="1243.0" y1="468.1" x2="1232.5" y2="446.4"/>
<line x1="1243.0" y1="468.1" x2="1246.5" y2="443.5"/>
<line x1="1390.6" y1="16.4" x2="1376.0" y2="33.8"/>
<line x1="1390.6" y1="16.4" x2="1390.5" y2="40.0"/>
<line x1="1436.5" y1="230.0" x2="1422.3" y2="209.6"/>
<line x1="1436.5" y1="230.0" x2="1439.2" y2="204.8"/>
<line x1="1570.5" y1="15.5" x2="1553.1" y2="27.9"/>
<line x1="1570.5" y1="15.5" x2="1567.3" y2="36.1"/>
</g>
</svg></body></html>
